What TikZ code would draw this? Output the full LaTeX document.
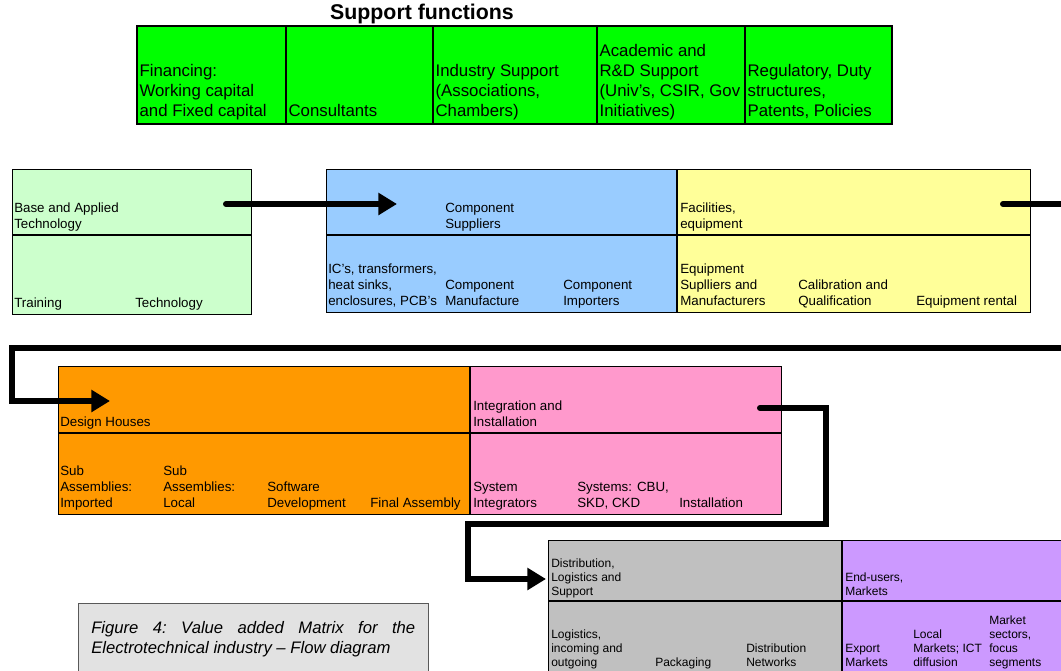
\documentclass[tikz,border=0pt]{standalone}
\usepackage{fontspec}
\setmainfont{Liberation Sans}
\usetikzlibrary{arrows.meta}

\definecolor{supgreen}{RGB}{0,255,0}
\definecolor{techgreen}{RGB}{204,255,204}
\definecolor{compblue}{RGB}{153,204,255}
\definecolor{facyellow}{RGB}{255,255,153}
\definecolor{desorange}{RGB}{255,153,0}
\definecolor{intpink}{RGB}{255,153,204}
\definecolor{distgrey}{RGB}{192,192,192}
\definecolor{endviolet}{RGB}{204,153,255}
\definecolor{capgrey}{RGB}{226,226,226}

\tikzset{
	supcell/.style={draw=black, line width=2pt, fill=supgreen},
	suptxt/.style={anchor=south west, align=left, inner xsep=1pt, inner ysep=0.5pt, font=\fontsize{12.6}{15}\selectfont, execute at end node=\strut},
	rowtxt/.style={anchor=south west, align=left, inner xsep=0pt, inner ysep=0pt, font=\fontsize{10}{12.2}\selectfont, execute at end node=\strut},
	endtxt/.style={anchor=south west, align=left, inner xsep=0pt, inner ysep=0pt, font=\fontsize{9}{10.5}\selectfont, execute at end node=\strut},
	blockedge/.style={draw=black, line width=0.6pt},
	midline/.style={draw=black, line width=1.6pt},
	sepline/.style={draw=black, line width=2pt},
	flow/.style={line width=4.5pt, line cap=round, line join=miter, -{Triangle[length=14pt,width=16pt]}}
}

\begin{document}
\begin{tikzpicture}[x=0.75pt, y=-0.75pt]
			%%%%% START %%%%%
			\useasboundingbox (0,0) rectangle (1061,671);
			
			% support functions
			\node[font=\bfseries\fontsize{16}{18}\selectfont] (suptitle) at (422,14) {Support functions};
			
			\draw[supcell] (137,26) rectangle (286,124);
			\draw[supcell] (286,26) rectangle (433,124);
			\draw[supcell] (433,26) rectangle (597,124);
			\draw[supcell] (597,26) rectangle (745,124);
			\draw[supcell] (745,26) rectangle (892,124);
			
			\node[suptxt] (fin) at (138,123) {Financing:\\Working capital\\and Fixed capital};
			\node[suptxt] (cons) at (287,123) {Consultants};
			\node[suptxt] (indsup) at (434,123) {Industry Support\\(Associations,\\Chambers)};
			\node[suptxt] (acad) at (598,123) {Academic and\\R\&D Support\\(Univ's, CSIR, Gov\\Initiatives)};
			\node[suptxt] (reg) at (746,123) {Regulatory, Duty\\structures,\\Patents, Policies};
			
			% first row
			\fill[techgreen] (12,169) rectangle (251,314);
			\draw[blockedge] (12,169) rectangle (251,314);
			\draw[midline] (12,235) -- (251,235);
			
			\fill[compblue] (326,169) rectangle (677,312);
			\draw[blockedge] (326,169) rectangle (677,312);
			\draw[midline] (326,235) -- (677,235);
			
			\fill[facyellow] (677,169) rectangle (1030,312);
			\draw[blockedge] (677,169) rectangle (1030,312);
			\draw[midline] (677,235) -- (1030,235);
			\draw[sepline] (677,169) -- (677,312);
			
			\node[rowtxt] (basetech) at (14,234) {Base and Applied\\Technology};
			\node[rowtxt] (training) at (14,313) {Training};
			\node[rowtxt] (technology) at (135,313) {Technology};
			\node[rowtxt] (compsup) at (445,234) {Component\\Suppliers};
			\node[rowtxt] (ics) at (328,311) {IC's, transformers,\\heat sinks,\\enclosures, PCB's};
			\node[rowtxt] (compman) at (445,311) {Component\\Manufacture};
			\node[rowtxt] (compimp) at (563,311) {Component\\Importers};
			\node[rowtxt] (facil) at (680,234) {Facilities,\\equipment};
			\node[rowtxt] (equsup) at (680,311) {Equipment\\Suplliers and\\Manufacturers};
			\node[rowtxt] (calib) at (798,311) {Calibration and\\Qualification};
			\node[rowtxt] (rental) at (916,311) {Equipment rental};
			
			% second row
			\fill[desorange] (58,366) rectangle (470,514);
			\draw[blockedge] (58,366) rectangle (470,514);
			\draw[midline] (58,433) -- (470,433);
			
			\fill[intpink] (470,366) rectangle (781,514);
			\draw[blockedge] (470,366) rectangle (781,514);
			\draw[midline] (470,433) -- (781,433);
			\draw[sepline] (470,366) -- (470,514);
			
			\node[rowtxt] (design) at (60,432) {Design Houses};
			\node[rowtxt] (subimp) at (60,513) {Sub\\Assemblies:\\Imported};
			\node[rowtxt] (subloc) at (163,513) {Sub\\Assemblies:\\Local};
			\node[rowtxt] (softw) at (267,513) {Software\\Development};
			\node[rowtxt] (finass) at (370,513) {Final Assembly};
			\node[rowtxt] (integ) at (473,432) {Integration and\\Installation};
			\node[rowtxt] (sysint) at (473,513) {System\\Integrators};
			\node[rowtxt] (syscbu) at (577,513) {Systems: CBU,\\SKD, CKD};
			\node[rowtxt] (install) at (679,513) {Installation};
			
			% third row
			\fill[distgrey] (548,540) rectangle (842,671);
			\fill[endviolet] (842,540) rectangle (1061,671);
			\draw[blockedge] (548,671) -- (548,540) -- (1061,540);
			\draw[midline] (548,601) -- (1061,601);
			\draw[sepline] (842,540) -- (842,671);
			
			\node[endtxt] (distlog) at (551,600) {Distribution,\\Logistics and\\Support};
			\node[endtxt] (login) at (551,671) {Logistics,\\incoming and\\outgoing};
			\node[endtxt] (pack) at (655,671) {Packaging};
			\node[endtxt] (distnet) at (746,671) {Distribution\\Networks};
			\node[endtxt] (endusr) at (845,600) {End-users,\\Markets};
			\node[endtxt] (export) at (845,671) {Export\\Markets};
			\node[endtxt] (locmkt) at (913,671) {Local\\Markets; ICT\\diffusion};
			\node[endtxt] (mktsec) at (989,671) {Market\\sectors,\\focus\\segments};
			
			% caption
			\draw[draw=black!65, fill=capgrey] (78,603) rectangle (428,676);
			\node[anchor=north west, text width=243pt, align=justify, inner sep=0pt, font=\itshape\fontsize{12.5}{15}\selectfont\frenchspacing] (caption) at (91,621) {Figure 4: Value added Matrix for the\linebreak Electrotechnical industry -- Flow diagram};
			
			% flow
			\coordinate (baseOut) at (226,204);
			\coordinate (compIn) at (397,204);
			\coordinate (facOut) at (1003,204);
			\coordinate (edgeA) at (1061,204);
			\coordinate (edgeB) at (1061,348);
			\coordinate (loopL) at (12,348);
			\coordinate (designIn) at (110,401);
			\coordinate (integOut) at (760,408);
			\coordinate (turnR) at (826,524);
			\coordinate (turnL) at (468,524);
			\coordinate (distIn) at (546,579);
			
			\draw[flow] (baseOut) -- (compIn);
			\draw[flow, -] (facOut) -- (edgeA);
			\draw[flow] (edgeB) -- (loopL) |- (designIn);
			\draw[flow] (integOut) -| (turnR) -- (turnL) |- (distIn);
			
			%%%%% END %%%%%
\end{tikzpicture}
\end{document}
